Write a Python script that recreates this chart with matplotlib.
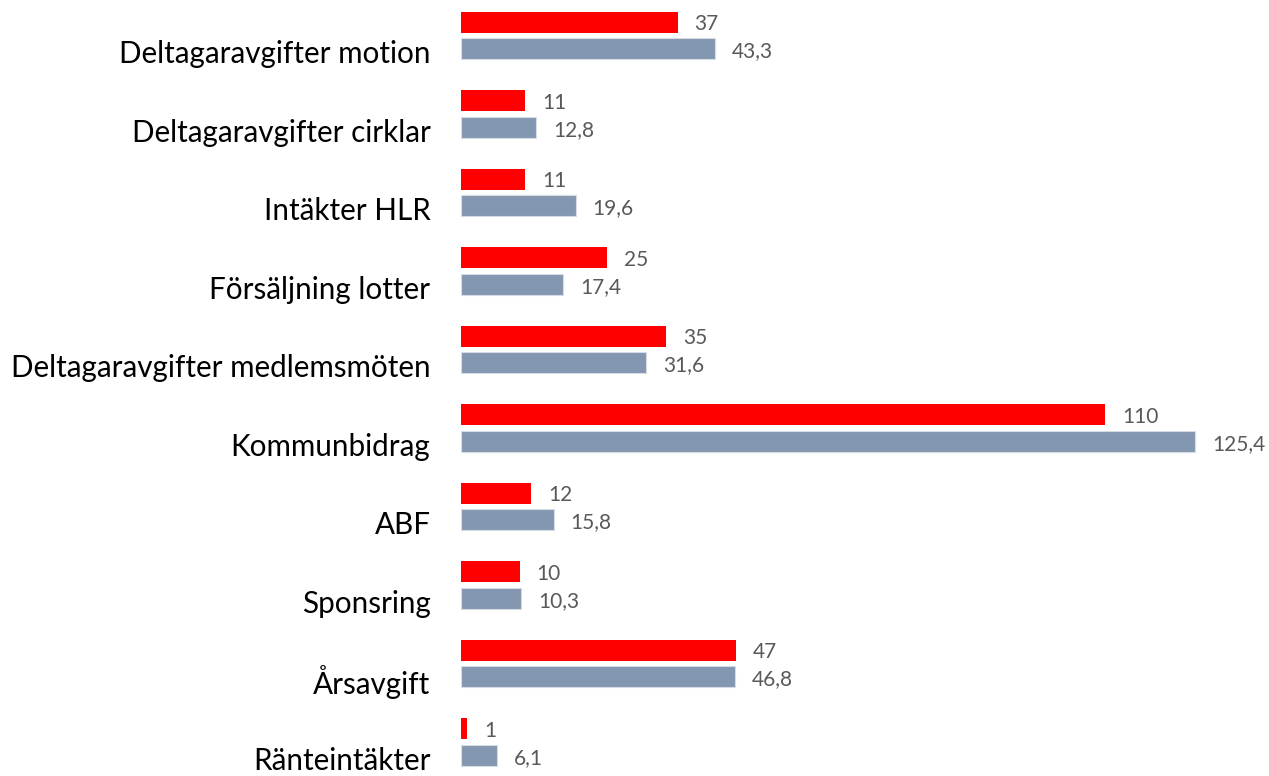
import matplotlib.pyplot as plt
import matplotlib.transforms as mtransforms
import numpy as np

# data
categories = ["Deltagaravgifter motion", "Deltagaravgifter cirklar", "Intäkter HLR",
              "Försäljning lotter", "Deltagaravgifter medlemsmöten", "Kommunbidrag",
              "ABF", "Sponsring", "Årsavgift", "Ränteintäkter"]
red_vals = [37, 11, 11, 25, 35, 110, 12, 10, 47, 1]
gray_vals = [43.3, 12.8, 19.6, 17.4, 31.6, 125.4, 15.8, 10.3, 46.8, 6.1]
red_labels = ["37", "11", "11", "25", "35", "110", "12", "10", "47", "1"]
gray_labels = ["43,3", "12,8", "19,6", "17,4", "31,6", "125,4", "15,8", "10,3", "46,8", "6,1"]

RED = "#FF0000"
GRAY = "#8497B0"
TXT = "#595959"

plt.rcParams['font.family'] = ['Lato', 'DejaVu Sans']

fig = plt.figure(figsize=(12.69, 7.76), dpi=100)
ax = fig.add_axes([461 / 1269, 0, 1 - 461 / 1269, 1])

y = np.arange(len(categories))
h = 0.2675
off = 0.166
ax.barh(y - off, red_vals, height=h, color=RED)
ax.barh(y + off, gray_vals, height=h, color=GRAY, edgecolor="#D6DCE5", linewidth=0.8)

# value labels
shift = mtransforms.offset_copy(ax.transData, fig=fig, x=17, y=-2, units='dots')
for i in range(len(categories)):
    ax.text(red_vals[i], y[i] - off, red_labels[i], transform=shift, ha='left', va='center',
            fontsize=15, color=TXT)
    ax.text(gray_vals[i], y[i] + off + 0.01, gray_labels[i], transform=shift, ha='left',
            va='center', fontsize=15, color=TXT)

ax.set_xlim(0, 138)
ax.set_ylim(9.433, -0.452)
ax.set_yticks(y + 0.21)
ax.set_yticklabels(categories, fontsize=21.3, color="black")
ax.tick_params(axis='y', length=0, pad=22)
ax.set_xticks([])
for s in ax.spines.values():
    s.set_visible(False)

fig.savefig("out.png", dpi=100)
